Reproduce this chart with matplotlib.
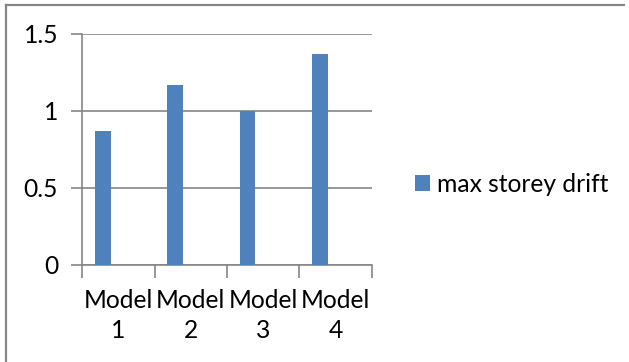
import matplotlib

matplotlib.use("Agg")

import matplotlib.pyplot as plt
from matplotlib.lines import Line2D
from matplotlib.ticker import FixedLocator, NullFormatter

models = ["Model\n1", "Model\n2", "Model\n3", "Model\n4"]
drift = [0.87, 1.17, 1.0, 1.37]
y_ticks = [0, 0.5, 1, 1.5]
y_labels = ["0", "0.5", "1", "1.5"]
series_name = "max storey drift"

BAR_BLUE = "#4F81BD"
GRID_GREY = "#868686"
FS = 17.7

plt.rcParams["font.family"] = ["Lato", "DejaVu Sans"]

fig = plt.figure(figsize=(6.29, 3.62), dpi=100)
ax = fig.add_axes([0.1309, 0.268, 0.4600, 0.6389])

# three series slots per category, only the first one carries data
bar_w = 0.217
positions = [i - bar_w for i in range(len(models))]
ax.bar(positions, drift, width=bar_w, color=BAR_BLUE, label=series_name, zorder=3)

ax.set_xlim(-0.5, len(models) - 0.5)
ax.set_ylim(0, 1.5)

ax.set_yticks(y_ticks)
ax.set_yticklabels(y_labels, fontsize=FS)
ax.yaxis.grid(True, color=GRID_GREY, linewidth=1.2, zorder=0)
ax.tick_params(axis="y", direction="out", length=8, width=1.2, color=GRID_GREY, pad=9.5)

ax.set_xticks(range(len(models)))
ax.set_xticklabels(models, fontsize=FS, linespacing=1.39)
ax.tick_params(axis="x", which="major", length=0, pad=17)
ax.xaxis.set_minor_locator(FixedLocator([k - 0.5 for k in range(len(models) + 1)]))
ax.xaxis.set_minor_formatter(NullFormatter())
ax.tick_params(axis="x", which="minor", direction="out", length=9, width=1.2, color=GRID_GREY)

for side in ("top", "right"):
    ax.spines[side].set_visible(False)
for side in ("left", "bottom"):
    ax.spines[side].set_color(GRID_GREY)
    ax.spines[side].set_linewidth(1.2)

leg = fig.legend(
    loc="center left",
    bbox_to_anchor=(415 / 629, 1 - 184 / 362),
    frameon=False,
    fontsize=FS,
    handlelength=0.62,
    handleheight=0.62,
    handletextpad=0.28,
    borderpad=0,
    borderaxespad=0,
)

# chart area frame (top and left edges)
W, H = 629, 362
fig.add_artist(Line2D([6.5 / W, 624 / W], [1 - 4.5 / H, 1 - 4.5 / H], color=GRID_GREY, linewidth=1.6))
fig.add_artist(Line2D([6.5 / W, 6.5 / W], [1 - 4.5 / H, 0], color=GRID_GREY, linewidth=1.6))

fig.savefig("out.png", dpi=100)
